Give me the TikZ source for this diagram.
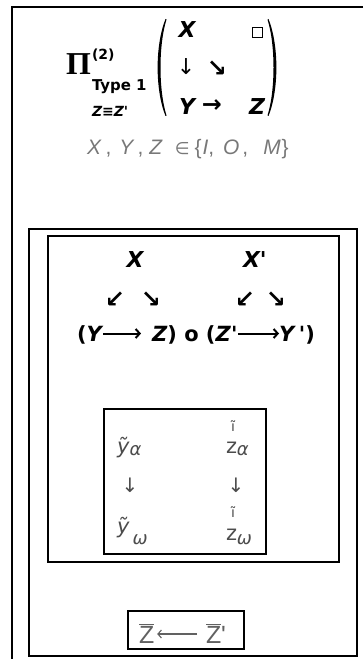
\documentclass[tikz,border=0pt]{standalone}
\usepackage{fontspec}
\setmainfont{DejaVu Sans}[BoldFont={DejaVu Sans Bold}, ItalicFont={DejaVu Sans Oblique}, BoldItalicFont={DejaVu Sans Bold Oblique}]
\newfontfamily\serifb{Liberation Serif}
\newfontfamily\lib{Liberation Sans}
\newfontfamily\dvs{DejaVu Sans}
\usetikzlibrary{arrows.meta}
\definecolor{gA}{gray}{0.47}
\definecolor{gB}{gray}{0.30}
\definecolor{gC}{gray}{0.38}
\begin{document}
\begin{tikzpicture}[x=1bp,y=-1bp,
  every node/.style={inner sep=0pt, outer sep=0pt},
  frame/.style={draw=black, line width=1.2bp},
  bigbi/.style={font=\fontsize{22}{22}\selectfont\bfseries\itshape},
  midrow/.style={font=\fontsize{21}{21}\selectfont\bfseries},
  sym/.style={font=\fontsize{22}{22}\selectfont},
  symb/.style={font=\fontsize{24}{24}\selectfont\bfseries},
  inner/.style={font=\fontsize{21}{21}\selectfont, text=gB},
  longarr/.style={line width=2bp, -{Straight Barb[length=4bp,width=9bp]}},
  barr/.style={line width=1.1bp, draw=gC, -{Straight Barb[length=3.5bp,width=8bp]}}]
\useasboundingbox (0,0) rectangle (363,659);
\fill[white] (0,0) rectangle (363,659);
% frames
\draw[frame, line width=1.5bp] (363,7) -- (12,7) -- (12,659);
\draw[frame] (29,229) rectangle (357,656);
\draw[frame] (48,236) rectangle (339,562);
\draw[frame] (104,409) rectangle (266,554);
\draw[frame] (128,611) rectangle (244,649);
% top formula
\node[anchor=base west, font={\fontsize{32}{32}\serifb\bfseries}] (pi) at (66,75) {Π};
\node[anchor=base west, font={\fontsize{14}{14}\selectfont\bfseries}] (sup) at (92,60) {(2)};
\node[anchor=base west, font={\fontsize{15}{15}\selectfont\bfseries}] (type) at (92,91) {Type 1};
\node[anchor=base west, font={\fontsize{14}{14}\selectfont\bfseries\itshape}] (zeq) at (92,117) {Z{\upshape≡}Z\textquotesingle};
\fill (165.5,19) .. controls (155,45) and (155,90) .. (165.5,116) -- (166.5,115.5) .. controls (158.5,90) and (158.5,45) .. (166.5,19.5) -- cycle;
\fill (268.5,19) .. controls (279,45) and (279,90) .. (268.5,116) -- (267.5,115.5) .. controls (275.5,90) and (275.5,45) .. (267.5,19.5) -- cycle;
\node[bigbi, anchor=base] (mX) at (187,38) {X};
\node[draw, line width=1bp, minimum size=10bp] (box) at (257.5,33) {};
\node[sym] (md) at (186,67) {↓};
\node[symb] (mse) at (217,69) {↘};
\node[bigbi, anchor=base] (mY) at (187,115) {Y};
\node[symb] (mr) at (212,106) {→};
\node[bigbi, anchor=base] (mZ) at (257,115) {Z};
\node[anchor=base west, font=\fontsize{21}{21}\lib, text=gA] (set) at (87,154)
  {\textit{X}\hspace{4bp},\hspace{8bp}\textit{Y}\hspace{3bp},\hspace{6bp}\textit{Z}\hspace{12bp}{\fontsize{17}{17}\dvs ∈}\hspace{5bp}\{\hspace{1bp}\textit{I},\hspace{9bp}\textit{O}\hspace{3bp},\hspace{15bp}\textit{M}\hspace{1bp}\}};
% middle
\node[bigbi, anchor=base] (X1) at (135,267) {X};
\node[bigbi, anchor=base west] (X2) at (243,267) {X\textquotesingle};
\node[symb] (a1) at (115,300) {↙};
\node[symb] (a2) at (151,300) {↘};
\node[symb] (a3) at (245,300) {↙};
\node[symb] (a4) at (276,300) {↘};
\node[midrow, anchor=base west] (L1) at (77,341) {(\textit{Y}};
\node[midrow, anchor=base west] (L2) at (152,341) {\textit{Z}) o (\textit{Z}\textquotesingle};
\node[midrow, anchor=base west] (L3) at (279,341) {\textit{Y}\hspace{3bp}\textquotesingle)};
\draw[longarr] ([xshift=0bp,yshift=7.5bp]L1.base east) -- ([xshift=-11bp,yshift=7.5bp]L2.base west);
\draw[longarr] ([xshift=1bp,yshift=7.5bp]L2.base east) -- ([xshift=0bp,yshift=7.5bp]L3.base west);
% innermost
\node[inner, anchor=base west] (ya) at (117,453) {\textit{\~y}\raisebox{-2bp}{\fontsize{18}{18}\selectfont\textit{α}}};
\node[inner, anchor=base west] (za) at (226,453) {z\raisebox{-2bp}{\fontsize{18}{18}\selectfont\textit{α}}};
\node[inner, anchor=base, font=\fontsize{14}{14}\selectfont] (ta) at (233,431) {\~{\i}};
\node[inner, font=\fontsize{20}{20}\selectfont] (d1) at (130,485) {↓};
\node[inner, font=\fontsize{20}{20}\selectfont] (d2) at (236,485) {↓};
\node[inner, anchor=base west] (yw) at (117,533) {\textit{\~y}\raisebox{-11bp}{\fontsize{18}{18}\selectfont\hspace{3bp}\textit{ω}}};
\node[inner, anchor=base west] (zw) at (226,540) {z\raisebox{-4bp}{\fontsize{18}{18}\selectfont\textit{ω}}};
\node[inner, anchor=base, font=\fontsize{14}{14}\selectfont] (tw) at (233,517) {\~{\i}};
% bottom
\node[anchor=base west, font=\fontsize{25}{25}\lib, text=gC] (zb1) at (139,643) {$\overline{\mbox{Z}}$};
\node[anchor=base west, font=\fontsize{25}{25}\lib, text=gC] (zb2) at (206,643) {$\overline{\mbox{Z}}$\textquotesingle};
\draw[barr] ([xshift=-9bp,yshift=9bp]zb2.base west) -- ([xshift=3bp,yshift=9bp]zb1.base east);
\end{tikzpicture}
\end{document}
